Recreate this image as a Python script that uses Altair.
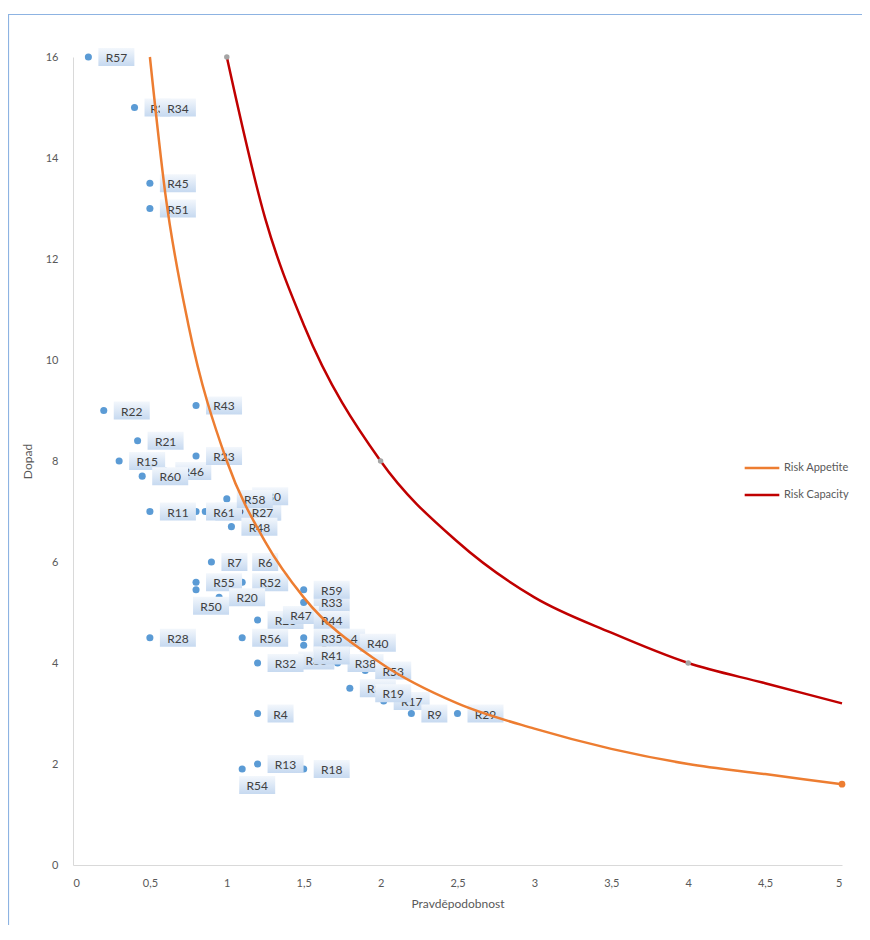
import altair as alt
import pandas as pd

# ---- data ----
risk_names = ["R57", "R3", "R34", "R45", "R51", "R22", "R43", "R21", "R15", "R46",
              "R60", "R23", "R11", "R49", "R61", "R8", "R27", "R30", "R58", "R48",
              "R7", "R6", "R55", "R52", "R50", "R20", "R33", "R59", "R26", "R47",
              "R44", "R56", "R28", "R42", "R14", "R35", "R40", "R36", "R38", "R41",
              "R32", "R53", "R31", "R17", "R19", "R9", "R29", "R4", "R54", "R13", "R18"]
risk_x = [0.1, 0.4, 0.5, 0.5, 0.5, 0.2, 0.8, 0.42, 0.3, 0.6,
          0.45, 0.8, 0.5, 0.86, 0.8, 1.12, 1.05, 1.1, 1.0, 1.03,
          0.9, 1.1, 0.8, 1.1, 0.8, 0.95, 1.5, 1.5, 1.2, 1.3,
          1.5, 1.1, 0.5, 1.5, 1.6, 1.5, 1.8, 1.4, 1.72, 1.5,
          1.2, 1.9, 1.8, 2.02, 1.9, 2.2, 2.5, 1.2, 1.1, 1.2, 1.5]
risk_y = [16.0, 15.0, 15.0, 13.5, 13.0, 9.0, 9.1, 8.4, 8.0, 7.8,
          7.7, 8.1, 7.0, 7.0, 7.0, 7.0, 7.0, 7.3, 7.25, 6.7,
          6.0, 6.0, 5.6, 5.6, 5.45, 5.3, 5.2, 5.45, 4.85, 4.95,
          4.85, 4.5, 4.5, 4.35, 4.5, 4.5, 4.4, 4.05, 4.0, 4.15,
          4.0, 3.85, 3.5, 3.25, 3.4, 3.0, 3.0, 3.0, 1.9, 2.0, 1.9]

appetite_x = [0.5, 0.6, 0.75, 1.0, 1.25, 1.5, 2.0, 2.5, 3.0, 3.5, 4.0, 4.5, 5.0]
appetite_y = [16.0, 13.3, 10.7, 8.0, 6.4, 5.3, 4.0, 3.2, 2.7, 2.3, 2.0, 1.8, 1.6]
capacity_x = [1.0, 1.25, 1.5, 2.0, 2.5, 3.0, 3.5, 4.0, 4.5, 5.0]
capacity_y = [16.0, 12.8, 10.7, 8.0, 6.4, 5.3, 4.6, 4.0, 3.6, 3.2]
capacity_marker_x = [1.0, 2.0, 4.0]
capacity_marker_y = [16.0, 8.0, 4.0]
appetite_marker_x = [5.0]
appetite_marker_y = [1.6]

series_names = ["Risk Appetite", "Risk Capacity"]
x_ticks = [0, 0.5, 1, 1.5, 2, 2.5, 3, 3.5, 4, 4.5, 5]
y_ticks = [0, 2, 4, 6, 8, 10, 12, 14, 16]

# labels that sit below their point instead of to the right (style only)
labels_below = {"R50", "R54"}

# ---- tables ----
risks = pd.DataFrame({"name": risk_names, "x": risk_x, "y": risk_y})
lines = pd.concat([
    pd.DataFrame({"x": appetite_x, "y": appetite_y, "series": series_names[0]}),
    pd.DataFrame({"x": capacity_x, "y": capacity_y, "series": series_names[1]}),
])
cap_markers = pd.DataFrame({"x": capacity_marker_x, "y": capacity_marker_y})
app_markers = pd.DataFrame({"x": appetite_marker_x, "y": appetite_marker_y})

FONT = "Lato"
GREY = "#595959"

xs = alt.Scale(domain=[0, 5], nice=False, zero=False)
ys = alt.Scale(domain=[0, 16], nice=False)
xaxis = alt.Axis(values=x_ticks, format="~g", labelExpr="replace(datum.label, '.', ',')",
                 grid=False, ticks=False, tickSize=0, domainColor="#d9d9d9",
                 labelColor=GREY, labelFont=FONT, labelFontSize=11, labelPadding=12,
                 title="Pravděpodobnost", titleFont=FONT, titleFontSize=12,
                 titleFontWeight="normal", titleColor=GREY, titlePadding=10)
yaxis = alt.Axis(values=y_ticks, format="~g", grid=False, ticks=False, tickSize=0,
                 domainColor="#d9d9d9", labelColor=GREY, labelFont=FONT, labelFontSize=11,
                 labelPadding=15, title="Dopad", titleFont=FONT, titleFontSize=12,
                 titleFontWeight="normal", titleColor=GREY, titlePadding=11)


def X():
    return alt.X("x:Q", scale=xs, axis=xaxis)


def Y():
    return alt.Y("y:Q", scale=ys, axis=yaxis)


layers = []

frame = alt.Chart(pd.DataFrame({"a": [0]})).mark_rect(
    filled=False, stroke="#8db3e2", strokeWidth=1.2
).encode(x=alt.value(-64.5), x2=alt.value(1000), y=alt.value(-42.5), y2=alt.value(1000))
layers.append(frame)

points = alt.Chart(risks).mark_circle(size=50, color="#5b9bd5", opacity=1).encode(x=X(), y=Y())
layers.append(points)

grad = alt.LinearGradient(
    gradient="linear",
    stops=[alt.GradientStop(color="#f3f7fc", offset=0),
           alt.GradientStop(color="#c6d9f0", offset=1)],
    x1=0, x2=0, y1=0, y2=1,
)

for name in risk_names:
    sub = risks[risks["name"] == name]
    w = 36 if len(name) > 2 else 26
    if name in labels_below:
        bx, by0, by1, ty = -3, 7, 25, 17
    else:
        bx, by0, by1, ty = 10, -9, 9, 1
    box = alt.Chart(sub).mark_rect(
        fill=grad, xOffset=bx, x2Offset=bx + w, yOffset=by0, y2Offset=by1
    ).encode(x=X(), x2="x:Q", y=Y(), y2="y:Q")
    txt = alt.Chart(sub).mark_text(
        align="center", baseline="middle", dx=bx + w / 2, dy=ty,
        font=FONT, fontSize=12, color="#404040"
    ).encode(x=X(), y=Y(), text="name:N")
    layers.extend([box, txt])

line_layer = alt.Chart(lines).mark_line(interpolate="monotone", strokeWidth=2.5).encode(
    x=X(), y=Y(),
    color=alt.Color("series:N",
                    scale=alt.Scale(domain=series_names, range=["#ed7d31", "#c00000"]),
                    legend=alt.Legend(title=None, orient="none", legendX=670, legendY=392,
                                      symbolType="stroke", symbolSize=1200,
                                      symbolStrokeWidth=2.5, labelFont=FONT,
                                      labelFontSize=11, labelColor=GREY,
                                      rowPadding=3, labelOffset=3)),
    detail="series:N",
)
layers.append(line_layer)

cap_pts = alt.Chart(cap_markers).mark_circle(size=30, color="#a5a5a5", opacity=1).encode(x=X(), y=Y())
app_pts = alt.Chart(app_markers).mark_circle(size=45, color="#ed7d31", opacity=1).encode(x=X(), y=Y())
layers.extend([cap_pts, app_pts])

chart = alt.layer(*layers).properties(
    width=769, height=808,
    autosize=alt.AutoSizeParams(type="none"),
    padding={"left": 65, "top": 49, "right": 20, "bottom": 60},
).configure(background="white").configure_view(strokeWidth=0, stroke="transparent")

chart.save("out.html", embed_options={"renderer": "svg", "actions": False})
